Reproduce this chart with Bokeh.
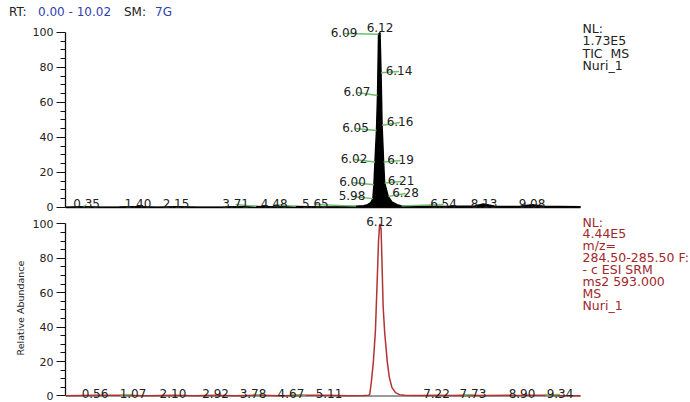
from bokeh.plotting import figure
from bokeh.models import ColumnDataSource, Range1d, FixedTicker, Div
from bokeh.layouts import column
from bokeh.embed import file_html
from bokeh.resources import INLINE
from bokeh.core.properties import value

# ---------------- data ----------------
RT_START, RT_END = 0.00, 10.02

# TIC trace (top panel), relative abundance %
tic_rt = [0.00, 0.35, 0.70, 1.05, 1.40, 1.80, 2.15, 2.60, 3.10, 3.71, 4.10, 4.48, 5.00, 5.40,
          5.65, 5.80, 5.88, 5.94, 5.98, 6.00, 6.02, 6.05, 6.07, 6.09, 6.12, 6.14, 6.16, 6.19,
          6.21, 6.28, 6.35, 6.45, 6.54, 6.80, 7.10, 7.40, 7.70, 7.95, 8.13, 8.35, 8.60, 8.85,
          9.08, 9.30, 9.60, 10.02]
tic_int = [0.2, 0.5, 0.2, 0.3, 0.5, 0.2, 0.5, 0.2, 0.3, 0.6, 0.3, 0.6, 0.3, 0.5,
           0.8, 1.0, 1.6, 2.8, 5.1, 13.0, 26.0, 44.0, 64.0, 99.0, 100.0, 77.0, 47.0, 26.0,
           14.0, 6.3, 3.2, 1.6, 0.9, 0.7, 0.8, 0.6, 0.8, 0.7, 2.0, 0.8, 0.6, 0.8,
           1.6, 0.7, 0.6, 0.5]

# SRM trace (bottom panel)
srm_rt = [0.00, 0.56, 1.07, 1.60, 2.10, 2.50, 2.92, 3.30, 3.78, 4.20, 4.67, 5.11, 5.50, 5.80,
          5.90, 5.92, 5.95, 5.99, 6.03, 6.05, 6.07, 6.09, 6.11, 6.12, 6.14, 6.16, 6.18, 6.21,
          6.26, 6.30, 6.35, 6.42, 6.50, 6.60, 6.90, 7.22, 7.50, 7.73, 8.20, 8.90, 9.34, 9.70,
          10.02]
srm_int = [0.2, 0.4, 0.5, 0.2, 0.4, 0.2, 0.4, 0.2, 0.5, 0.2, 0.5, 0.4, 0.2, 0.3,
           0.4, 1.0, 8.0, 20.0, 38.0, 55.0, 72.0, 90.0, 99.0, 100.0, 97.0, 75.0, 52.0, 37.0,
           20.0, 11.0, 5.0, 2.0, 0.8, 0.4, 0.3, 0.5, 0.3, 0.5, 0.3, 0.4, 0.5, 0.2,
           0.2]

# peak labels, top panel: label text (= retention time), intensity of labelled point,
# label anchor (rt units / % units), whether a leader line is drawn
top_lbl = ["0.35", "1.40", "2.15", "3.71", "4.48", "5.65", "5.98", "6.00", "6.02", "6.05",
           "6.07", "6.09", "6.12", "6.14", "6.16", "6.19", "6.21", "6.28", "6.54", "8.13", "9.08"]
top_lbl_int = [0.5, 0.5, 0.5, 0.6, 0.6, 0.8, 5.1, 13.0, 26.0, 44.0,
               64.0, 99.0, 100.0, 77.0, 47.0, 26.0, 14.0, 6.3, 0.9, 2.0, 1.6]
top_lbl_x = [0.41, 1.41, 2.15, 3.31, 4.06, 4.86, 5.574, 5.584, 5.613, 5.642,
             5.671, 5.419, 6.119, 6.489, 6.508, 6.518, 6.528, 6.615, 7.355, 8.143, 9.076]
top_lbl_y = [1.71, 1.71, 1.71, 1.71, 1.71, 1.71, 6.29, 14.29, 27.43, 45.14,
             65.71, 99.43, 102.29, 77.71, 48.57, 26.86, 14.86, 8.0, 1.71, 1.71, 1.71]
top_leader = [True, False, False, True, True, True, True, True, True, True,
              True, True, False, True, True, True, True, True, True, False, False]

bot_lbl = ["0.56", "1.07", "2.10", "2.92", "3.78", "4.67", "5.11", "6.12",
           "7.22", "7.73", "8.90", "9.34"]
bot_lbl_int = [0.4, 0.5, 0.4, 0.4, 0.5, 0.5, 0.4, 100.0, 0.5, 0.5, 0.4, 0.5]
bot_lbl_x = [0.574, 1.313, 2.09, 2.92, 3.648, 4.387, 5.127, 6.109,
             7.218, 7.928, 8.882, 9.621]
bot_lbl_y = [0.9, 0.9, 0.9, 0.9, 0.9, 0.9, 0.9, 100.76, 0.9, 0.9, 0.9, 0.9]
bot_leader = [False, True, False, False, True, True, False, False,
              False, True, False, True]

top_info = ["NL:", "1.73E5", "TIC\u00a0\u00a0MS", "Nuri_1"]
top_info_y = [102.29, 95.43, 88.0, 81.14]
bot_info = ["NL:", "4.44E5", "m/z=", "284.50-285.50 F:", "- c ESI SRM",
            "ms2 593.000", "MS", "Nuri_1"]
bot_info_y = [100.87, 94.48, 87.5, 80.5, 73.55, 66.57, 59.42, 52.62]
INFO_X = 10.059

y_major = [0, 20, 40, 60, 80, 100]
y_minor = [5, 10, 15, 25, 30, 35, 45, 50, 55, 65, 70, 75, 85, 90, 95]

# ---------------- style ----------------
FONT = "DejaVu Sans"
TXT = "#222222"
GREEN = "#6cc06c"
RED_LINE = "#b03434"
RED_TXT = "#a0282c"
BLUE = "#2f3fae"
X_VIEW = Range1d(0, 12.16)


def style_axis(p):
    ax = p.yaxis[0]
    ax.ticker = FixedTicker(ticks=y_major, minor_ticks=y_minor)
    ax.bounds = (0, 100)
    ax.axis_line_color = "#111111"
    ax.axis_line_width = 1.3
    ax.major_tick_line_color = "#111111"
    ax.minor_tick_line_color = "#111111"
    ax.major_tick_out = 9
    ax.major_tick_in = 0
    ax.minor_tick_out = 5
    ax.minor_tick_in = 0
    ax.major_label_standoff = 3
    ax.major_label_text_font = FONT
    ax.major_label_text_font_size = "11px"
    ax.major_label_text_color = TXT
    p.grid.visible = False
    p.outline_line_color = None


def add_labels(p, lbl, lbl_int, lx, ly, leader, color):
    xs0, ys0, xs1, ys1 = [], [], [], []
    for t, yi, x, y, f in zip(lbl, lbl_int, lx, ly, leader):
        if f:
            xs0.append(x); ys0.append(y); xs1.append(float(t)); ys1.append(yi)
    p.segment(x0=xs0, y0=ys0, x1=xs1, y1=ys1, line_color=GREEN, line_width=1.3)
    src = ColumnDataSource(dict(x=lx, y=ly, t=lbl))
    p.text(x="x", y="y", text="t", source=src, text_font=value(FONT),
           text_font_size=value("12px"), text_align="center",
           text_baseline="alphabetic", text_color=color, y_offset=-1)


# header
header = Div(
    text=(
        '<div style="position:relative;width:690px;height:18px;'
        "font-family:'DejaVu Sans';font-size:12px;line-height:14px;\">"
        '<span style="position:absolute;left:9px;top:5px;color:#222">RT:</span>'
        f'<span style="position:absolute;left:38px;top:5px;color:{BLUE}">0.00 - 10.02</span>'
        '<span style="position:absolute;left:124px;top:5px;color:#222">SM:</span>'
        f'<span style="position:absolute;left:155px;top:5px;color:{BLUE}">7G</span>'
        "</div>"
    ),
    width=690, height=18, margin=(0, 0, 0, 0),
)

# ---------------- top panel ----------------
p1 = figure(width=690, height=195, x_range=X_VIEW, y_range=Range1d(-3.43, 108.0),
            x_axis_location=None, toolbar_location=None, output_backend="svg",
            min_border_left=65, min_border_right=0, min_border_top=0, min_border_bottom=0,
            title=None)
style_axis(p1)
p1.line([RT_START, RT_END], [0, 0], line_color="#111111", line_width=1.6)
p1.varea(x=tic_rt, y1=[0] * len(tic_rt), y2=tic_int, fill_color="black")
p1.line(tic_rt, tic_int, line_color="black", line_width=1.4)
add_labels(p1, top_lbl, top_lbl_int, top_lbl_x, top_lbl_y, top_leader, TXT)
p1.text(x=[INFO_X] * len(top_info), y=top_info_y, text=top_info, text_font=value(FONT),
        text_font_size=value("12.5px"), text_align="left", text_baseline="alphabetic",
        text_color=TXT)

# ---------------- bottom panel ----------------
p2 = figure(width=690, height=189, x_range=X_VIEW, y_range=Range1d(-3.78, 106.10),
            x_axis_location=None, toolbar_location=None, output_backend="svg",
            min_border_left=65, min_border_right=0, min_border_top=0, min_border_bottom=0,
            title=None)
style_axis(p2)
ax2 = p2.yaxis[0]
ax2.axis_label = "Relative Abundance"
ax2.axis_label_text_font = FONT
ax2.axis_label_text_font_size = "9.5px"
ax2.axis_label_text_font_style = "normal"
ax2.axis_label_text_color = TXT
ax2.axis_label_standoff = 4
p2.line([RT_START, RT_END], [0, 0], line_color="#9a9a9a", line_width=2.2)
p2.line(srm_rt, srm_int, line_color=RED_LINE, line_width=1.5)
add_labels(p2, bot_lbl, bot_lbl_int, bot_lbl_x, bot_lbl_y, bot_leader, TXT)
p2.text(x=[INFO_X] * len(bot_info), y=bot_info_y, text=bot_info, text_font=value(FONT),
        text_font_size=value("12.5px"), text_align="left", text_baseline="alphabetic",
        text_color=RED_TXT)

layout = column(header, p1, p2, spacing=0)
open("out.html", "w").write(file_html(layout, INLINE))
